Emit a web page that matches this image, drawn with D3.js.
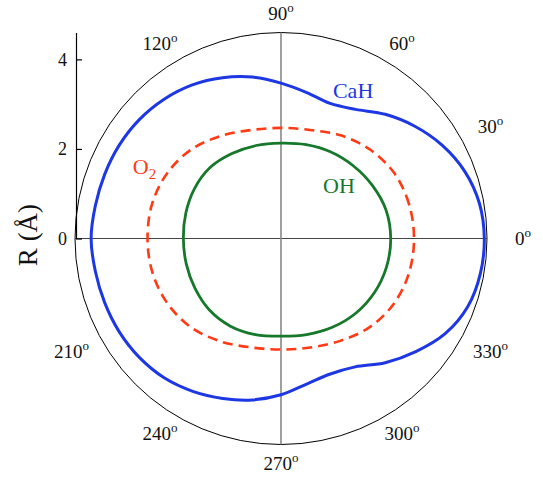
<!DOCTYPE html>
<html>
<head>
<meta charset="utf-8">
<script src="https://cdn.jsdelivr.net/npm/d3@7"></script>
<style>
  html, body { margin: 0; padding: 0; background: #fff; }
  svg { display: block; font-family: "Liberation Serif", "Times New Roman", serif; }
</style>
</head>
<body>
<svg id="chart" width="543" height="478"></svg>
<script>
// Radial extent (Å) of each fragment around the complex, by polar angle (degrees, counter-clockwise from +x)
const cahAngles = [0, 10, 20, 30, 40, 50, 60, 70, 80, 90, 100, 110, 120, 130, 140, 150, 160, 170,
                   180, 190, 200, 210, 220, 230, 240, 250, 260, 270, 280, 290, 300, 310, 320, 330, 340, 350];
const cahR = [4.54, 4.50, 4.37, 4.16, 3.90, 3.62, 3.33, 3.21, 3.31, 3.47, 3.66, 3.82, 3.96, 4.06, 4.13, 4.17, 4.19, 4.21,
              4.24, 4.21, 4.19, 4.17, 4.13, 4.06, 3.94, 3.80, 3.66, 3.49, 3.30, 3.22, 3.31, 3.62, 3.93, 4.24, 4.44, 4.52];

const ringAngles = [0, 15, 30, 45, 60, 75, 90, 105, 120, 135, 150, 165,
                    180, 195, 210, 225, 240, 255, 270, 285, 300, 315, 330, 345];
const ohR = [2.45, 2.43, 2.36, 2.29, 2.23, 2.17, 2.13, 2.15, 2.19, 2.24, 2.23, 2.20,
             2.18, 2.19, 2.22, 2.26, 2.26, 2.22, 2.18, 2.22, 2.29, 2.36, 2.41, 2.44];
const o2R = [2.97, 2.96, 2.92, 2.81, 2.66, 2.51, 2.47, 2.51, 2.65, 2.82, 2.93, 2.98,
             2.98, 2.97, 2.92, 2.82, 2.66, 2.52, 2.48, 2.52, 2.64, 2.80, 2.91, 2.96];

// Axis ticks and angular labels
const rTicks = [0, 2, 4];
const rMax = 4.6;
const angleLabels = [0, 30, 60, 90, 120, 210, 240, 270, 300, 330];

const svg = d3.select("#chart");
const cx = 281, cy = 238.5;

const r = d3.scaleLinear().domain([0, rMax]).range([0, 206]);
const y = d3.scaleLinear().domain([0, rMax]).range([cy, cy - r(rMax)]);
const toRad = d => d * Math.PI / 180;

const g = svg.append("g").attr("transform", `translate(${cx},${cy})`);

// Outer boundary circle
g.append("circle")
  .attr("r", r(rMax))
  .attr("fill", "none")
  .attr("stroke", "#000")
  .attr("stroke-width", 1);

// Cross-hairs through the origin
g.append("line")
  .attr("x1", -r(rMax)).attr("x2", r(rMax))
  .attr("y1", 0).attr("y2", 0)
  .attr("stroke", "#444").attr("stroke-width", 1.2);
g.append("line")
  .attr("x1", 0).attr("x2", 0)
  .attr("y1", -r(rMax)).attr("y2", r(rMax))
  .attr("stroke", "#888").attr("stroke-width", 1.6);

// Closed radial curves
const radial = d3.lineRadial()
  .angle(d => toRad(90 - d[0]))
  .radius(d => r(d[1]))
  .curve(d3.curveCatmullRomClosed.alpha(0.5));

const zip = (a, b) => a.map((v, i) => [v, b[i]]);

g.append("path")
  .attr("d", radial(zip(ringAngles, o2R)))
  .attr("fill", "none")
  .attr("stroke", "#ff3a14")
  .attr("stroke-width", 2.6)
  .attr("stroke-dasharray", "10,6");

g.append("path")
  .attr("d", radial(zip(ringAngles, ohR)))
  .attr("fill", "none")
  .attr("stroke", "#16782a")
  .attr("stroke-width", 2.8);

g.append("path")
  .attr("d", radial(zip(cahAngles, cahR)))
  .attr("fill", "none")
  .attr("stroke", "#1c37e3")
  .attr("stroke-width", 3);

// Curve labels (placed in Å coordinates)
const lx = v => r(v), ly = v => -r(v);
g.append("text")
  .attr("x", lx(1.16)).attr("y", ly(3.13))
  .attr("fill", "#1c37e3").attr("font-size", 22)
  .text("CaH");
g.append("text")
  .attr("x", lx(0.94)).attr("y", ly(1.02))
  .attr("fill", "#16782a").attr("font-size", 22)
  .text("OH");
const o2Label = g.append("text")
  .attr("x", lx(-3.31)).attr("y", ly(1.43))
  .attr("fill", "#ff3a14").attr("font-size", 22);
o2Label.append("tspan").text("O");
o2Label.append("tspan").attr("font-size", 15).attr("dy", 5).text("2");

// Angle labels around the circle
g.selectAll("text.ang")
  .data(angleLabels)
  .join("text")
  .attr("class", "ang")
  .attr("x", d => 242 * Math.cos(toRad(d)))
  .attr("y", d => -225 * Math.sin(toRad(d)))
  .attr("dy", "0.36em")
  .attr("text-anchor", "middle")
  .attr("font-size", 19)
  .attr("fill", "#111")
  .each(function (d) {
    const t = d3.select(this);
    t.append("tspan").text(d);
    t.append("tspan").attr("font-size", 13).attr("dy", -8).text("o");
  });

// Radial axis on the left
const axis = d3.axisLeft(y).tickValues(rTicks).tickSize(-6).tickSizeOuter(0).tickPadding(9).tickFormat(d3.format("d"));
const ax = svg.append("g")
  .attr("transform", `translate(${cx - r(rMax) + 1},0)`)
  .call(axis);
ax.select(".domain").attr("stroke", "#000").attr("stroke-width", 1.2);
ax.selectAll(".tick line").attr("stroke", "#000").attr("stroke-width", 1.2);
ax.selectAll(".tick text")
  .attr("font-family", "Liberation Serif, Times New Roman, serif")
  .attr("font-size", 18)
  .attr("fill", "#111");

svg.append("text")
  .attr("transform", `translate(37,235) rotate(-90)`)
  .attr("text-anchor", "middle")
  .attr("font-size", 27)
  .attr("fill", "#111")
  .text("R (Å)");
</script>
</body>
</html>
